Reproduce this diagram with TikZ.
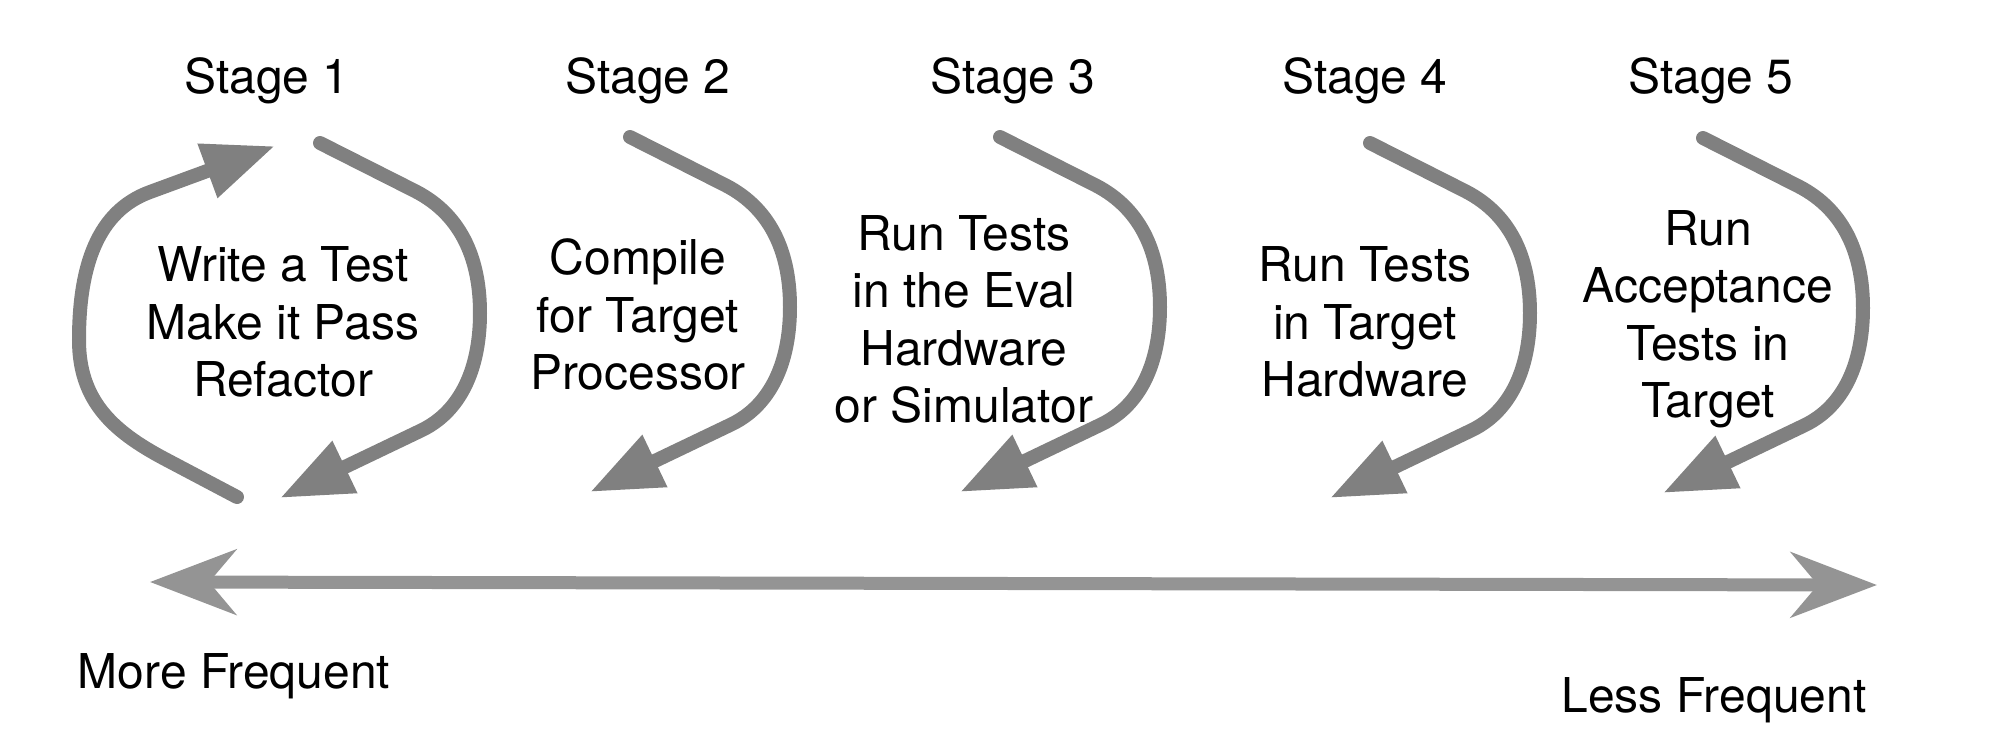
\documentclass[tikz,border=0pt]{standalone}
\usepackage{fontspec}
\setmainfont{TeX Gyre Heros}
\usetikzlibrary{arrows.meta}

\definecolor{arcgray}{RGB}{128,128,128}
\definecolor{bargray}{RGB}{148,148,148}
\newcommand\stagefont{\fontsize{13.66pt}{16.22pt}\selectfont}

\begin{document}
\begin{tikzpicture}
  [
    stage label/.style = {anchor=base,font=\stagefont},
    task text/.style = {anchor=base,align=center,font=\stagefont},
    freq label/.style = {anchor=base,font=\stagefont},
    stage arc/.style = {line width=1.4mm,draw=arcgray,line cap=round,-{Triangle[length=7.2mm,width=5.4mm]}},
    freq line/.style = {line width=1.3mm,draw=bargray,
      {Stealth[length=8.6mm,width=6.5mm,inset=2.7mm]}-{Stealth[length=8.6mm,width=6.5mm,inset=2.7mm]}},
  ]

  \useasboundingbox (0,0) rectangle (19.96,-7.44);

  % stage titles
  \foreach \n/\x in {1/2.67,2/6.48,3/10.13,4/13.65,5/17.11}
    \node[stage label] (stage\n) at (\x,-0.93) {Stage \n};

  % what each stage does (base = last line)
  \node[task text] (task1) at (2.83,-3.96)  {Write a Test\\Make it Pass\\Refactor};
  \node[task text] (task2) at (6.38,-3.89)  {Compile\\for Target\\Processor};
  \node[task text] (task3) at (9.64,-4.22)  {Run Tests\\in the Eval\\Hardware\\or Simulator};
  \node[task text] (task4) at (13.65,-3.96) {Run Tests\\in Target\\Hardware};
  \node[task text] (task5) at (17.08,-4.17) {Run\\Acceptance\\Tests in\\Target};

  % the curved arrows on the right of each stage
  \foreach \x/\y in {3.20/-1.43,6.30/-1.37,10.00/-1.37,13.70/-1.43,17.03/-1.38}
    \draw[stage arc,shift={(\x,\y)}] (0,0) -- (0.95,-0.48)
      .. controls (1.44,-0.73) and (1.60,-1.20) .. (1.60,-1.70)
      .. controls (1.60,-2.25) and (1.41,-2.69) .. (1.00,-2.88) -- (-0.40,-3.55);

  % closing the loop of stage 1
  \draw[stage arc] (2.37,-4.97) -- (1.65,-4.59)
    .. controls (1.12,-4.31) and (0.79,-4.00) .. (0.79,-3.40)
    .. controls (0.79,-2.65) and (0.98,-2.11) .. (1.50,-1.92) -- (2.75,-1.46);

  % frequency scale
  \coordinate (more end) at (1.50,-5.82);
  \coordinate (less end) at (18.77,-5.85);
  \draw[freq line] (more end) -- (less end);

  \node[freq label] (more) at (2.34,-6.88)  {More Frequent};
  \node[freq label] (less) at (17.14,-7.12) {Less Frequent};

\end{tikzpicture}
\end{document}
